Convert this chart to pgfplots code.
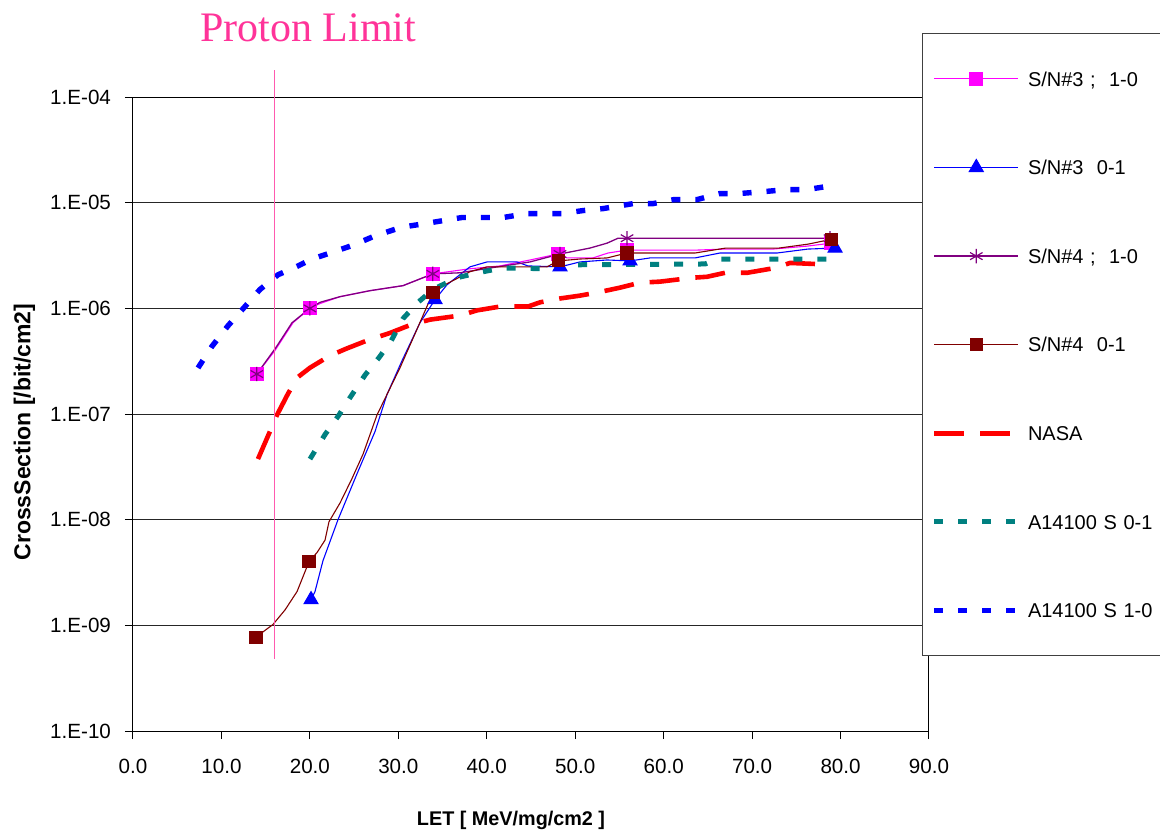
\documentclass[border=0pt]{standalone}
\usepackage{fontspec}
\setmainfont{Liberation Sans}
\newfontfamily\seriffont{Liberation Serif}
\usepackage{pgfplots}
\pgfplotsset{compat=1.18}

\definecolor{snthreeA}{RGB}{255,0,255}
\definecolor{snthreeB}{RGB}{0,0,255}
\definecolor{snfourA}{RGB}{128,0,128}
\definecolor{snfourB}{RGB}{128,0,0}
\definecolor{nasa}{RGB}{255,0,0}
\definecolor{aopen}{RGB}{0,128,128}
\definecolor{aclose}{RGB}{0,0,255}
\definecolor{proton}{RGB}{255,51,153}
\definecolor{protonline}{RGB}{255,90,175}

\begin{document}
\begin{tikzpicture}
\begin{axis}[
  name=ax, at={(0,0)}, anchor=south west,
  scale only axis, width=398pt, height=317pt,
  xmin=0, xmax=90, ymode=log, ymin=1e-10, ymax=1e-4,
  xtick={0,10,...,90},
  xticklabels={0.0,10.0,20.0,30.0,40.0,50.0,60.0,70.0,80.0,90.0},
  ytick={1e-10,1e-9,1e-8,1e-7,1e-6,1e-5,1e-4},
  yticklabels={1.E-10,1.E-09,1.E-08,1.E-07,1.E-06,1.E-05,1.E-04},
  yminorticks=false,
  tick align=outside, major tick length=4pt,
  xtick pos=bottom, ytick pos=left,
  tick style={black, line width=0.5pt},
  axis line style={black, line width=0.5pt},
  ymajorgrids, grid style={black!85, line width=0.5pt},
  ticklabel style={font=\fontsize{10.3}{12}\selectfont},
  xticklabel shift=6.5pt,
  yticklabel shift=3.5pt,
  xlabel={LET [ MeV/mg/cm2 ]},
  xlabel style={at={(rel axis cs:0.4749,-0.1404)}, anchor=center,
    font=\bfseries\fontsize{9.9}{12}\selectfont},
  ylabel={CrossSection [/bit/cm2]},
  ylabel style={at={(rel axis cs:-0.1363,0.4716)}, anchor=center,
    font=\bfseries\fontsize{11.5}{14}\selectfont},
  clip=false,
  legend cell align=left,
  legend image code/.code={%
    \draw[#1, mark indices={2}]
      plot coordinates {(0pt,0pt) (21pt,0pt) (42pt,0pt)};},
  legend style={at={(rel axis cs:0.99121,1.10095)}, anchor=north west,
    draw=black!75, line width=0.6pt, fill=white,
    inner xsep=4.5pt, inner ysep=0.5pt, row sep=0pt, column sep=3.5pt,
    font=\fontsize{10}{12}\selectfont,
    nodes={inner sep=0pt, minimum height=44.3pt, text height=7.2pt,
      text depth=0pt, text width=90pt}},
]

% S/N#3, 1-0
\addplot[snthreeA, line width=0.55pt, mark=square*, mark size=3.2pt,
  mark options={solid, fill=snthreeA, draw=snthreeA},
  mark indices={1,4,9,13,17,22}] coordinates {
  (14.0,2.39e-7) (16.06,4.0e-7) (18.09,7.31e-7) (20.0,1.0e-6)
  (21.14,1.11e-6) (23.41,1.29e-6) (26.80,1.47e-6) (30.53,1.64e-6)
  (33.9,2.12e-6) (38.10,2.37e-6) (41.50,2.52e-6) (44.89,2.87e-6)
  (48.06,3.27e-6) (49.07,3.0e-6) (52.01,3.0e-6) (53.71,3.34e-6)
  (55.86,3.56e-6) (63.77,3.56e-6) (66.94,3.64e-6) (72.37,3.64e-6)
  (76.21,3.88e-6) (78.92,4.14e-6)};
\addlegendentry{S/N\#3 ;~~1-0}

% S/N#3, 0-1
\addplot[snthreeB, line width=0.55pt, mark=triangle*, mark size=4pt,
  mark options={solid, fill=snthreeB, draw=snthreeB},
  mark indices={1,10,16,19,25}] coordinates {
  (20.13,1.75e-9) (20.58,2.09e-9) (21.48,4.09e-9) (23.18,1.0e-8)
  (25.33,2.72e-8) (27.36,6.81e-8) (28.72,1.53e-7) (30.42,3.2e-7)
  (32.45,7.31e-7) (34.15,1.21e-6) (35.50,1.67e-6) (38.10,2.47e-6)
  (40.03,2.75e-6) (43.42,2.75e-6) (44.66,2.52e-6) (48.28,2.47e-6)
  (50.54,2.75e-6) (53.60,2.87e-6) (56.20,2.81e-6) (58.46,3.0e-6)
  (63.55,3.0e-6) (66.37,3.34e-6) (72.82,3.34e-6) (76.32,3.64e-6)
  (79.38,3.72e-6)};
\addlegendentry{S/N\#3~~0-1}

% S/N#4, 1-0
\addplot[snfourA, line width=0.65pt, mark=asterisk, mark size=3.6pt,
  mark options={solid, draw=snfourA, line width=0.6pt},
  mark indices={1,4,9,13,17,18}] coordinates {
  (14.0,2.39e-7) (16.17,4.27e-7) (17.98,7.31e-7) (20.0,1.0e-6)
  (21.14,1.14e-6) (23.41,1.29e-6) (26.80,1.47e-6) (30.53,1.64e-6)
  (33.9,2.12e-6) (36.97,2.17e-6) (40.37,2.41e-6) (44.89,2.75e-6)
  (48.28,3.27e-6) (51.67,3.72e-6) (53.60,4.14e-6) (54.84,4.61e-6)
  (55.86,4.61e-6) (78.81,4.61e-6)};
\addlegendentry{S/N\#4 ;~~1-0}

% S/N#4, 0-1
\addplot[snfourB, line width=0.55pt, mark=square*, mark size=3pt,
  mark options={solid, fill=snfourB, draw=snfourB},
  mark indices={1,5,15,20,23,29}] coordinates {
  (13.91,7.74e-10) (15.83,1.02e-9) (17.19,1.40e-9) (18.55,2.09e-9)
  (19.90,4.0e-9) (20.81,4.89e-9) (21.71,6.40e-9) (22.16,9.56e-9)
  (23.41,1.44e-8) (24.76,2.45e-8) (26.01,4.17e-8) (27.59,9.8e-8)
  (30.19,2.74e-7) (32.23,6.68e-7) (33.92,1.41e-6) (35.50,1.71e-6)
  (38.10,2.22e-6) (40.03,2.47e-6) (46.81,2.47e-6) (48.06,2.81e-6)
  (50.54,2.93e-6) (53.60,3.0e-6) (55.86,3.34e-6) (58.46,3.34e-6)
  (63.55,3.34e-6) (66.94,3.71e-6) (72.93,3.71e-6) (76.32,4.05e-6)
  (78.96,4.5e-6)};
\addlegendentry{S/N\#4~~0-1}

% NASA reference curve
\addplot[nasa, line width=2.3pt, dash pattern=on 15pt off 8pt, mark=none]
  coordinates {
  (14.13,3.75e-8) (15.38,6.53e-8) (16.28,9.79e-8) (17.53,1.56e-7)
  (18.66,2.24e-7) (20.01,2.74e-7) (22.27,3.57e-7) (24.20,4.18e-7)
  (26.57,5.0e-7) (29.06,5.85e-7) (31.43,7.0e-7) (33.58,7.82e-7)
  (36.97,8.55e-7) (38.90,9.57e-7) (41.50,1.04e-6) (44.66,1.04e-6)
  (46.02,1.14e-6) (48.28,1.24e-6) (50.54,1.32e-6) (52.46,1.41e-6)
  (55.07,1.57e-6) (57.33,1.75e-6) (59.59,1.79e-6) (63.32,1.95e-6)
  (64.90,1.99e-6) (66.94,2.17e-6) (69.43,2.17e-6) (72.59,2.41e-6)
  (74.29,2.69e-6) (77.11,2.63e-6)};
\addlegendentry{NASA}

% A14100 S, 0-1
\addplot[aopen, line width=2.5pt, dash pattern=on 4.5pt off 7.5pt, mark=none]
  coordinates {
  (20.01,3.75e-8) (21.71,6.39e-8) (23.29,9.79e-8) (24.54,1.43e-7)
  (26.24,2.34e-7) (27.82,3.42e-7) (29.17,4.89e-7) (30.53,8.0e-7)
  (32.23,1.14e-6) (33.92,1.51e-6) (36.64,1.95e-6) (39.01,2.17e-6)
  (41.72,2.41e-6) (46.81,2.37e-6) (48.85,2.58e-6) (64.68,2.63e-6)
  (66.15,2.93e-6) (79.04,2.93e-6)};
\addlegendentry{A14100 S 0-1}

% A14100 S, 1-0
\addplot[aclose, line width=2.7pt, dash pattern=on 4.5pt off 7.5pt, mark=none]
  coordinates {
  (7.35,2.73e-7) (8.93,4.37e-7) (10.74,6.84e-7) (12.66,1.04e-6)
  (14.36,1.51e-6) (16.40,2.08e-6) (18.66,2.52e-6) (20.24,2.93e-6)
  (22.61,3.41e-6) (24.88,3.96e-6) (27.25,4.81e-6) (30.30,5.84e-6)
  (33.81,6.50e-6) (37.20,7.24e-6) (41.84,7.24e-6) (44.55,7.89e-6)
  (48.51,7.89e-6) (50.88,8.42e-6) (53.14,8.79e-6) (55.18,9.38e-6)
  (56.54,9.8e-6) (58.80,9.8e-6) (61.17,1.07e-5) (63.77,1.07e-5)
  (66.37,1.22e-5) (68.52,1.22e-5) (71.23,1.27e-5) (73.84,1.33e-5)
  (76.21,1.33e-5) (79.04,1.45e-5)};
\addlegendentry{A14100 S 1-0}

% proton limit marker line and caption
\addplot[protonline, line width=0.6pt, mark=none, forget plot]
  coordinates {(16,1.8e-4) (16,4.84e-10)};
\node[anchor=base west, inner sep=0pt, text=proton,
  font=\seriffont\fontsize{21}{24}\selectfont]
  at (rel axis cs:0.0842,1.0868) {Proton Limit};

\end{axis}
\pgfresetboundingbox
\useasboundingbox ([xshift=-66.5pt,yshift=-50pt]ax.south west)
  rectangle ([xshift=513.5pt,yshift=365.5pt]ax.south west);
\end{tikzpicture}
\end{document}
